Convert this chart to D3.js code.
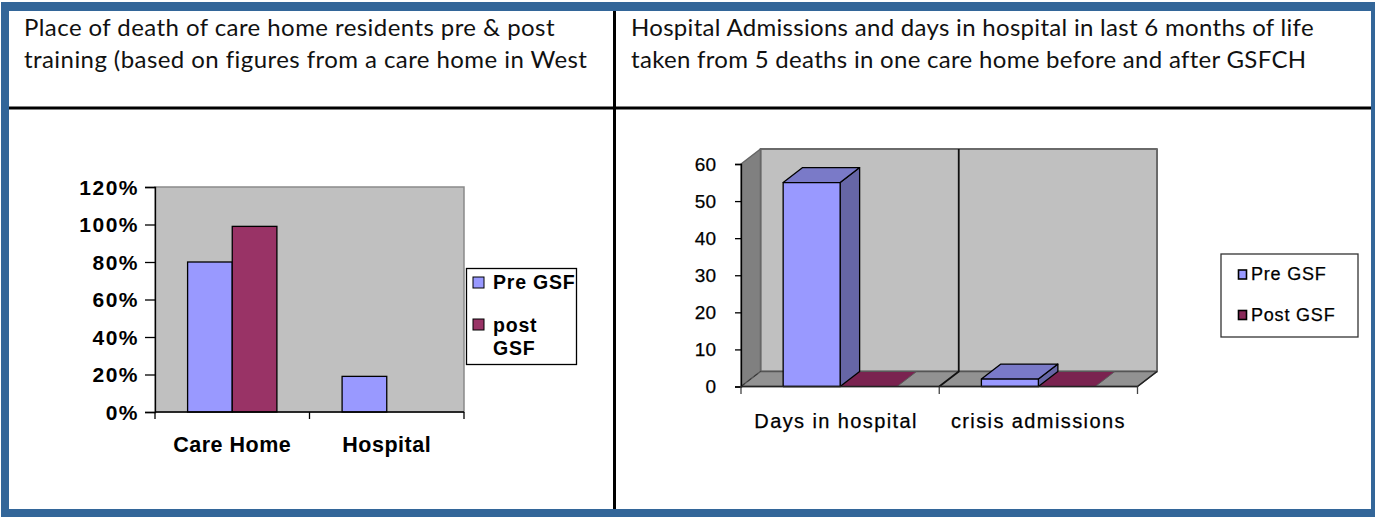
<!DOCTYPE html>
<html><head><meta charset="utf-8">
<style>html,body{margin:0;padding:0;background:#fff}svg{display:block}
.hd{font-family:Lato,"Open Sans",sans-serif;font-size:24px;letter-spacing:0.43px;fill:#111}
.hd2{letter-spacing:0.3px}
.b{font-family:"Liberation Sans",Arial,sans-serif;font-weight:bold;fill:#000}
.r{font-family:"Liberation Sans",Arial,sans-serif;fill:#000;stroke:#000;stroke-width:0.25px}
</style></head><body>
<svg id="c" width="1375" height="517"></svg>
<script src="https://cdn.jsdelivr.net/npm/d3@7"></script>
<script>
const leftTitle=["Place of death of care home residents pre & post","training (based on figures from a care home in West"];
const rightTitle=["Hospital Admissions and days in hospital in last 6 months of life","taken from 5 deaths in one care home before and after GSFCH"];
const leftCategories=["Care Home","Hospital"];
const leftPre=[80,19];
const leftPost=[99,0];
const leftTicks=[0,20,40,60,80,100,120];
const rightCategories=["Days in hospital","crisis admissions"];
const rightPre=[55,2];
const rightPost=[0,0];
const rightTicks=[0,10,20,30,40,50,60];

const svg=d3.select("#c");
const blue="#336699";
// frame
svg.append("rect").attr("x",1).attr("y",2).attr("width",1374).attr("height",515).attr("fill",blue);
svg.append("rect").attr("x",9).attr("y",11).attr("width",1362).attr("height",498).attr("fill","#fff");
svg.append("rect").attr("x",9).attr("y",106.5).attr("width",1362).attr("height",3).attr("fill","#000");
svg.append("rect").attr("x",613).attr("y",11).attr("width",3).attr("height",498).attr("fill","#000");
const title=(lines,x,cls)=>lines.forEach((t,i)=>svg.append("text").attr("class",cls).attr("x",x).attr("y",36+i*32).text(t));
title(leftTitle,24,"hd");title(rightTitle,631,"hd hd2");

// LEFT chart
const preC="#9999ff",postC="#993366";
{
 const x=d3.scaleBand().domain(leftCategories).range([155,464]);
 const y=d3.scaleLinear().domain([0,120]).range([412,187]);
 const sub=d3.scaleBand().domain([0,1]).range([0,x.bandwidth()]).paddingOuter(0.73).paddingInner(0);
 const g=svg.append("g");
 g.append("rect").attr("x",155).attr("y",187).attr("width",309).attr("height",225).attr("fill","#c0c0c0").attr("stroke","#8a8a8a").attr("stroke-width",1.5);
 [leftPre,leftPost].forEach((vals,s)=>{
  g.selectAll(null).data(vals.map((v,i)=>({v,c:leftCategories[i]})).filter(d=>d.v>0)).enter().append("rect")
   .attr("x",d=>x(d.c)+sub(s)).attr("y",d=>y(d.v)).attr("width",sub.bandwidth()).attr("height",d=>y(0)-y(d.v))
   .attr("fill",s?postC:preC).attr("stroke","#000").attr("stroke-width",1.3);
 });
 const ay=g.append("g").attr("transform","translate(155,0)").call(d3.axisLeft(y).tickValues(leftTicks).tickFormat(d=>d+"%").tickSize(10).tickPadding(6));
 ay.selectAll("text").attr("class","b").style("font-size","21px").style("letter-spacing","1.5px").attr("dy","0.34em");
 const ax=g.append("g").attr("transform","translate(0,412)").call(d3.axisBottom(x).tickSize(0).tickPadding(25));
 ax.select(".domain").remove();
 ax.selectAll("text").attr("class","b").style("font-size","21.5px").style("letter-spacing","0.5px").attr("dy","0.71em");
 ax.selectAll(".tick line").remove();
 [155,309.5,464].forEach(v=>g.append("line").attr("x1",v).attr("x2",v).attr("y1",412).attr("y2",419).attr("stroke","#000").attr("stroke-width",1.3));
 g.append("line").attr("x1",155).attr("x2",464).attr("y1",412).attr("y2",412).attr("stroke","#000").attr("stroke-width",1.5);
 ay.selectAll("path,line").attr("stroke","#000").attr("stroke-width",1.3);
 // legend
 const L=g.append("g");
 L.append("rect").attr("x",466.5).attr("y",268.5).attr("width",110).attr("height",96).attr("fill","#fff").attr("stroke","#000").attr("stroke-width",1.3);
 L.append("rect").attr("x",473).attr("y",277).attr("width",11).attr("height",11).attr("fill",preC).attr("stroke","#000");
 L.append("rect").attr("x",473).attr("y",319).attr("width",11).attr("height",11).attr("fill",postC).attr("stroke","#000");
 [["Pre GSF",289],["post",332],["GSF",355]].forEach(d=>L.append("text").attr("class","b").attr("x",493).attr("y",d[1]).style("font-size","19.5px").style("letter-spacing","0.8px").text(d[0]));
}

// RIGHT chart (pseudo-3D)
{
 const dx=19.5,dy=-15;
 const x=d3.scaleBand().domain(rightCategories).range([741,1137.5]);
 const y=d3.scaleLinear().domain([0,60]).range([386.5,164]);
 const sub=d3.scaleBand().domain([0,1]).range([0,x.bandwidth()]).paddingOuter(0.74).paddingInner(0);
 const g=svg.append("g");
 const poly=(pts,fill,sw=1.3,st="#000")=>g.append("polygon").attr("points",pts.map(p=>p.join(",")).join(" ")).attr("fill",fill).attr("stroke",st).attr("stroke-width",sw).attr("stroke-linejoin","round");
 const x0=741,x1=1137.5,yb=y(0),yt=y(60);
 // walls
 poly([[x0+dx,yt+dy],[x1+dx,yt+dy],[x1+dx,yb+dy],[x0+dx,yb+dy]],"#c0c0c0",2,"#6a6a6a");
 poly([[x0,yt],[x0+dx,yt+dy],[x0+dx,yb+dy],[x0,yb]],"#808080",1.5,"#666");
 poly([[x0,yb],[x0+dx,yb+dy],[x1+dx,yb+dy],[x1,yb]],"#929292",1.5,"#555");
 g.append("line").attr("x1",x1).attr("y1",yb).attr("x2",x1+dx).attr("y2",yb+dy).attr("stroke","#222").attr("stroke-width",1.5);
 g.append("line").attr("x1",x0).attr("y1",yb).attr("x2",x0+dx).attr("y2",yb+dy).attr("stroke","#333").attr("stroke-dasharray","5 3");
 // mid gridline on wall/floor
 const xm=x.range()[0]+x.step();
 g.append("polyline").attr("points",`${xm},${yb} ${xm+dx},${yb+dy} ${xm+dx},${yt+dy}`).attr("fill","none").attr("stroke","#111").attr("stroke-width",1.8);
 const shades={0:["#9999ff","#7a7ac8","#6666a6"],1:["#7a2350","#7a2350","#5f1b3e"]};
 [rightPost,rightPre].forEach((vals,k)=>{
  const s=k?0:1;
  vals.forEach((v,i)=>{
   const l=x(rightCategories[i])+sub(s),r=l+sub.bandwidth(),t=y(v),b=y(0);
   const [f,tp,sd]=shades[s];
   if(v>0){
    poly([[r,b],[r+dx,b+dy],[r+dx,t+dy],[r,t]],sd);
    poly([[l,t],[l+dx,t+dy],[r+dx,t+dy],[r,t]],tp);
    poly([[l,t],[r,t],[r,b],[l,b]],f);
   }else{
    poly([[l,t],[l+dx,t+dy],[r+dx,t+dy],[r,t]],tp,1,"#5a5a5a");
   }
  });
 });
 const ay=g.append("g").attr("transform","translate(741,0)").call(d3.axisLeft(y).tickValues(rightTicks).tickSize(6).tickPadding(19));
 ay.selectAll("path,line").attr("stroke","#000").attr("stroke-width",1.3);
 ay.selectAll("text").attr("class","r").style("font-size","19px").attr("dy","0.34em");
 const ax=g.append("g").attr("transform","translate(0,386.5)").call(d3.axisBottom(x).tickSize(0).tickPadding(27.5));
 ax.select(".domain").remove();ax.selectAll(".tick line").remove();
 ax.selectAll("text").attr("class","r").style("font-size","20px").style("letter-spacing","1.4px").attr("dy","0.71em").attr("dx",(d,i)=>i?0:-4);
 [x0,xm,x1].forEach(v=>g.append("line").attr("x1",v).attr("x2",v).attr("y1",386).attr("y2",394).attr("stroke","#444").attr("stroke-width",1.3));
 g.append("line").attr("x1",x0).attr("x2",x1).attr("y1",386.5).attr("y2",386.5).attr("stroke","#222").attr("stroke-width",1.5);
 const L=g.append("g");
 L.append("rect").attr("x",1221).attr("y",254).attr("width",137).attr("height",83).attr("fill","#fff").attr("stroke","#333").attr("stroke-width",1.3);
 L.append("rect").attr("x",1238.5).attr("y",270).attr("width",8).attr("height",9).attr("fill",preC).attr("stroke","#000").attr("stroke-width",1.6);
 L.append("rect").attr("x",1238.5).attr("y",310.5).attr("width",8).attr("height",9).attr("fill","#8a2a5a").attr("stroke","#000").attr("stroke-width",1.6);
 [["Pre GSF",279.5],["Post GSF",320.5]].forEach(d=>L.append("text").attr("class","r").attr("x",1251).attr("y",d[1]).style("font-size","18px").style("letter-spacing","0.8px").text(d[0]));
}
</script></body></html>
